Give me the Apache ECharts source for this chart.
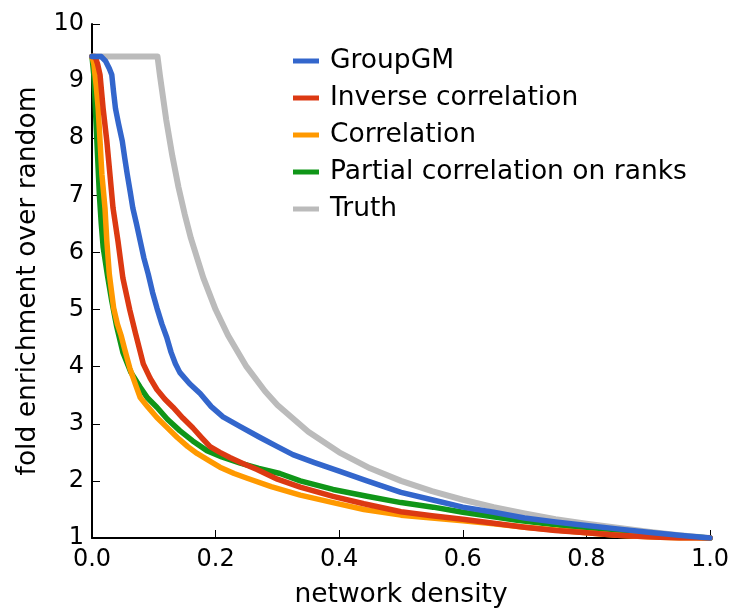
<!DOCTYPE html>
<html>
<head>
<meta charset="utf-8">
<script src="https://cdn.jsdelivr.net/npm/echarts@6/dist/echarts.min.js"></script>
<style>
  html, body { margin: 0; padding: 0; background: #fff; }
  #chart { width: 737px; height: 609px; }
</style>
</head>
<body>
<div id="chart"></div>
<script>
// Fold enrichment over random vs. network density for each method
const groupX = [0, 0.015, 0.022, 0.028, 0.032, 0.035, 0.038, 0.043, 0.049, 0.053, 0.057, 0.062, 0.066, 0.072, 0.078, 0.084, 0.091, 0.098, 0.105, 0.113, 0.121, 0.128, 0.135, 0.142, 0.158, 0.175, 0.193, 0.212, 0.24, 0.272, 0.30, 0.325, 0.36, 0.40, 0.445, 0.50, 0.55, 0.60, 0.65, 0.70, 0.75, 0.80, 0.85, 0.90, 0.95, 1.0];
const groupY = [9.43, 9.43, 9.35, 9.22, 9.11, 8.8, 8.52, 8.25, 7.95, 7.65, 7.37, 7.05, 6.78, 6.5, 6.2, 5.9, 5.62, 5.3, 5.03, 4.75, 4.51, 4.25, 4.05, 3.9, 3.7, 3.53, 3.3, 3.12, 2.95, 2.76, 2.6, 2.46, 2.32, 2.17, 2.0, 1.80, 1.67, 1.54, 1.45, 1.35, 1.28, 1.22, 1.16, 1.10, 1.05, 1.0];

const invX = [0, 0.005, 0.009, 0.013, 0.018, 0.024, 0.029, 0.034, 0.042, 0.050, 0.061, 0.070, 0.083, 0.094, 0.105, 0.118, 0.131, 0.147, 0.163, 0.178, 0.191, 0.207, 0.223, 0.245, 0.267, 0.30, 0.337, 0.39, 0.44, 0.50, 0.55, 0.60, 0.65, 0.70, 0.75, 0.80, 0.85, 0.90, 0.95, 1.0];
const invY = [9.43, 9.43, 9.3, 9.11, 8.52, 7.95, 7.37, 6.78, 6.2, 5.55, 5.0, 4.6, 4.05, 3.8, 3.6, 3.43, 3.29, 3.1, 2.93, 2.75, 2.6, 2.5, 2.41, 2.3, 2.2, 2.03, 1.89, 1.73, 1.60, 1.46, 1.39, 1.33, 1.26, 1.19, 1.13, 1.09, 1.05, 1.02, 1.0, 1.0];

const corrX = [0, 0.003, 0.007, 0.010, 0.013, 0.016, 0.021, 0.024, 0.028, 0.035, 0.041, 0.047, 0.053, 0.061, 0.070, 0.078, 0.090, 0.105, 0.120, 0.138, 0.155, 0.170, 0.19, 0.207, 0.23, 0.25, 0.29, 0.337, 0.39, 0.44, 0.50, 0.55, 0.60, 0.65, 0.70, 0.75, 0.80, 0.85, 0.90, 0.95, 1.0];
const corrY = [9.43, 9.3, 8.9, 8.52, 7.95, 7.37, 6.78, 6.2, 5.62, 5.03, 4.75, 4.55, 4.3, 3.98, 3.7, 3.46, 3.3, 3.11, 2.95, 2.76, 2.6, 2.48, 2.35, 2.24, 2.13, 2.05, 1.9, 1.75, 1.62, 1.50, 1.40, 1.35, 1.30, 1.25, 1.19, 1.14, 1.09, 1.05, 1.02, 1.0, 1.0];

const rankX = [0, 0.003, 0.006, 0.009, 0.012, 0.015, 0.018, 0.025, 0.032, 0.040, 0.050, 0.063, 0.078, 0.090, 0.105, 0.122, 0.142, 0.163, 0.186, 0.21, 0.240, 0.27, 0.304, 0.337, 0.39, 0.445, 0.50, 0.552, 0.60, 0.633, 0.688, 0.75, 0.80, 0.85, 0.90, 0.95, 1.0];
const rankY = [9.43, 9.1, 8.4, 7.7, 7.0, 6.5, 6.1, 5.6, 5.15, 4.7, 4.25, 3.9, 3.64, 3.45, 3.29, 3.08, 2.88, 2.7, 2.53, 2.42, 2.31, 2.22, 2.13, 2.0, 1.85, 1.73, 1.62, 1.54, 1.45, 1.40, 1.31, 1.23, 1.17, 1.12, 1.07, 1.03, 1.0];

const truthX = [0, 0.106, 0.11, 0.12, 0.13, 0.14, 0.15, 0.16, 0.18, 0.20, 0.22, 0.25, 0.28, 0.30, 0.35, 0.40, 0.45, 0.50, 0.55, 0.60, 0.65, 0.70, 0.75, 0.80, 0.85, 0.90, 0.95, 1.0];
const truthY = [9.43, 9.43, 9.09, 8.33, 7.69, 7.14, 6.67, 6.25, 5.56, 5.0, 4.55, 4.0, 3.57, 3.33, 2.86, 2.5, 2.22, 2.0, 1.82, 1.67, 1.54, 1.43, 1.33, 1.25, 1.18, 1.11, 1.05, 1.0];

const xTicks = [0, 0.2, 0.4, 0.6, 0.8, 1.0];
const yTicks = [1, 2, 3, 4, 5, 6, 7, 8, 9, 10];

const names = ['GroupGM', 'Inverse correlation', 'Correlation', 'Partial correlation on ranks', 'Truth'];
const colors = ['#3366CC', '#DC3912', '#FF9900', '#109618', '#BBBBBB'];

const pairs = (xs, ys) => xs.map((x, i) => [x, ys[i]]);
const seriesData = [
  pairs(groupX, groupY),
  pairs(invX, invY),
  pairs(corrX, corrY),
  pairs(rankX, rankY),
  pairs(truthX, truthY)
];
// drawing order: truth at the back, GroupGM on top
const zOrder = [6, 5, 4, 3, 1];

const font = 'DejaVu Sans';
const chart = echarts.init(document.getElementById('chart'), null, { renderer: 'canvas' });

chart.setOption({
  animation: false,
  backgroundColor: '#ffffff',
  textStyle: { fontFamily: font },
  grid: { left: 92, right: 27, top: 24, bottom: 71, containLabel: false, outerBoundsMode: 'none' },
  legend: {
    orient: 'vertical',
    left: 288,
    top: 42,
    icon: 'rect',
    itemWidth: 26,
    itemHeight: 5,
    itemGap: 9,
    data: names,
    textStyle: { fontFamily: font, fontSize: 26.5, color: '#000', lineHeight: 28, padding: [0, 0, 0, 6] }
  },
  xAxis: {
    type: 'value',
    min: 0,
    max: 1,
    interval: 0.2,
    name: 'network density',
    nameLocation: 'middle',
    nameGap: 44,
    nameTextStyle: { fontFamily: font, fontSize: 26.5, color: '#000' },
    splitLine: { show: false },
    axisLine: { onZero: false, lineStyle: { color: '#000', width: 2 } },
    axisTick: { inside: true, length: 8, lineStyle: { color: '#000', width: 1 } },
    axisLabel: {
      fontFamily: font, fontSize: 24, color: '#000', margin: 10,
      formatter: v => xTicks.some(t => Math.abs(t - v) < 1e-9) ? v.toFixed(1) : ''
    }
  },
  yAxis: {
    type: 'value',
    min: 1,
    max: 10,
    interval: 1,
    name: 'fold enrichment over random',
    nameLocation: 'middle',
    nameGap: 50,
    nameTextStyle: { fontFamily: font, fontSize: 26.5, color: '#000' },
    splitLine: { show: false },
    axisLine: { onZero: false, lineStyle: { color: '#000', width: 2 } },
    axisTick: { inside: true, length: 8, lineStyle: { color: '#000', width: 1 } },
    axisLabel: {
      fontFamily: font, fontSize: 24, color: '#000', margin: 8,
      formatter: v => yTicks.includes(v) ? String(v) : ''
    }
  },
  series: names.map((n, i) => ({
    name: n,
    type: 'line',
    data: seriesData[i],
    showSymbol: false,
    symbol: 'none',
    z: zOrder[i],
    color: colors[i],
    lineStyle: { color: colors[i], width: i === 4 ? 6 : 5.5, join: 'round', cap: 'round' },
    emphasis: { disabled: true }
  }))
});
</script>
</body>
</html>
